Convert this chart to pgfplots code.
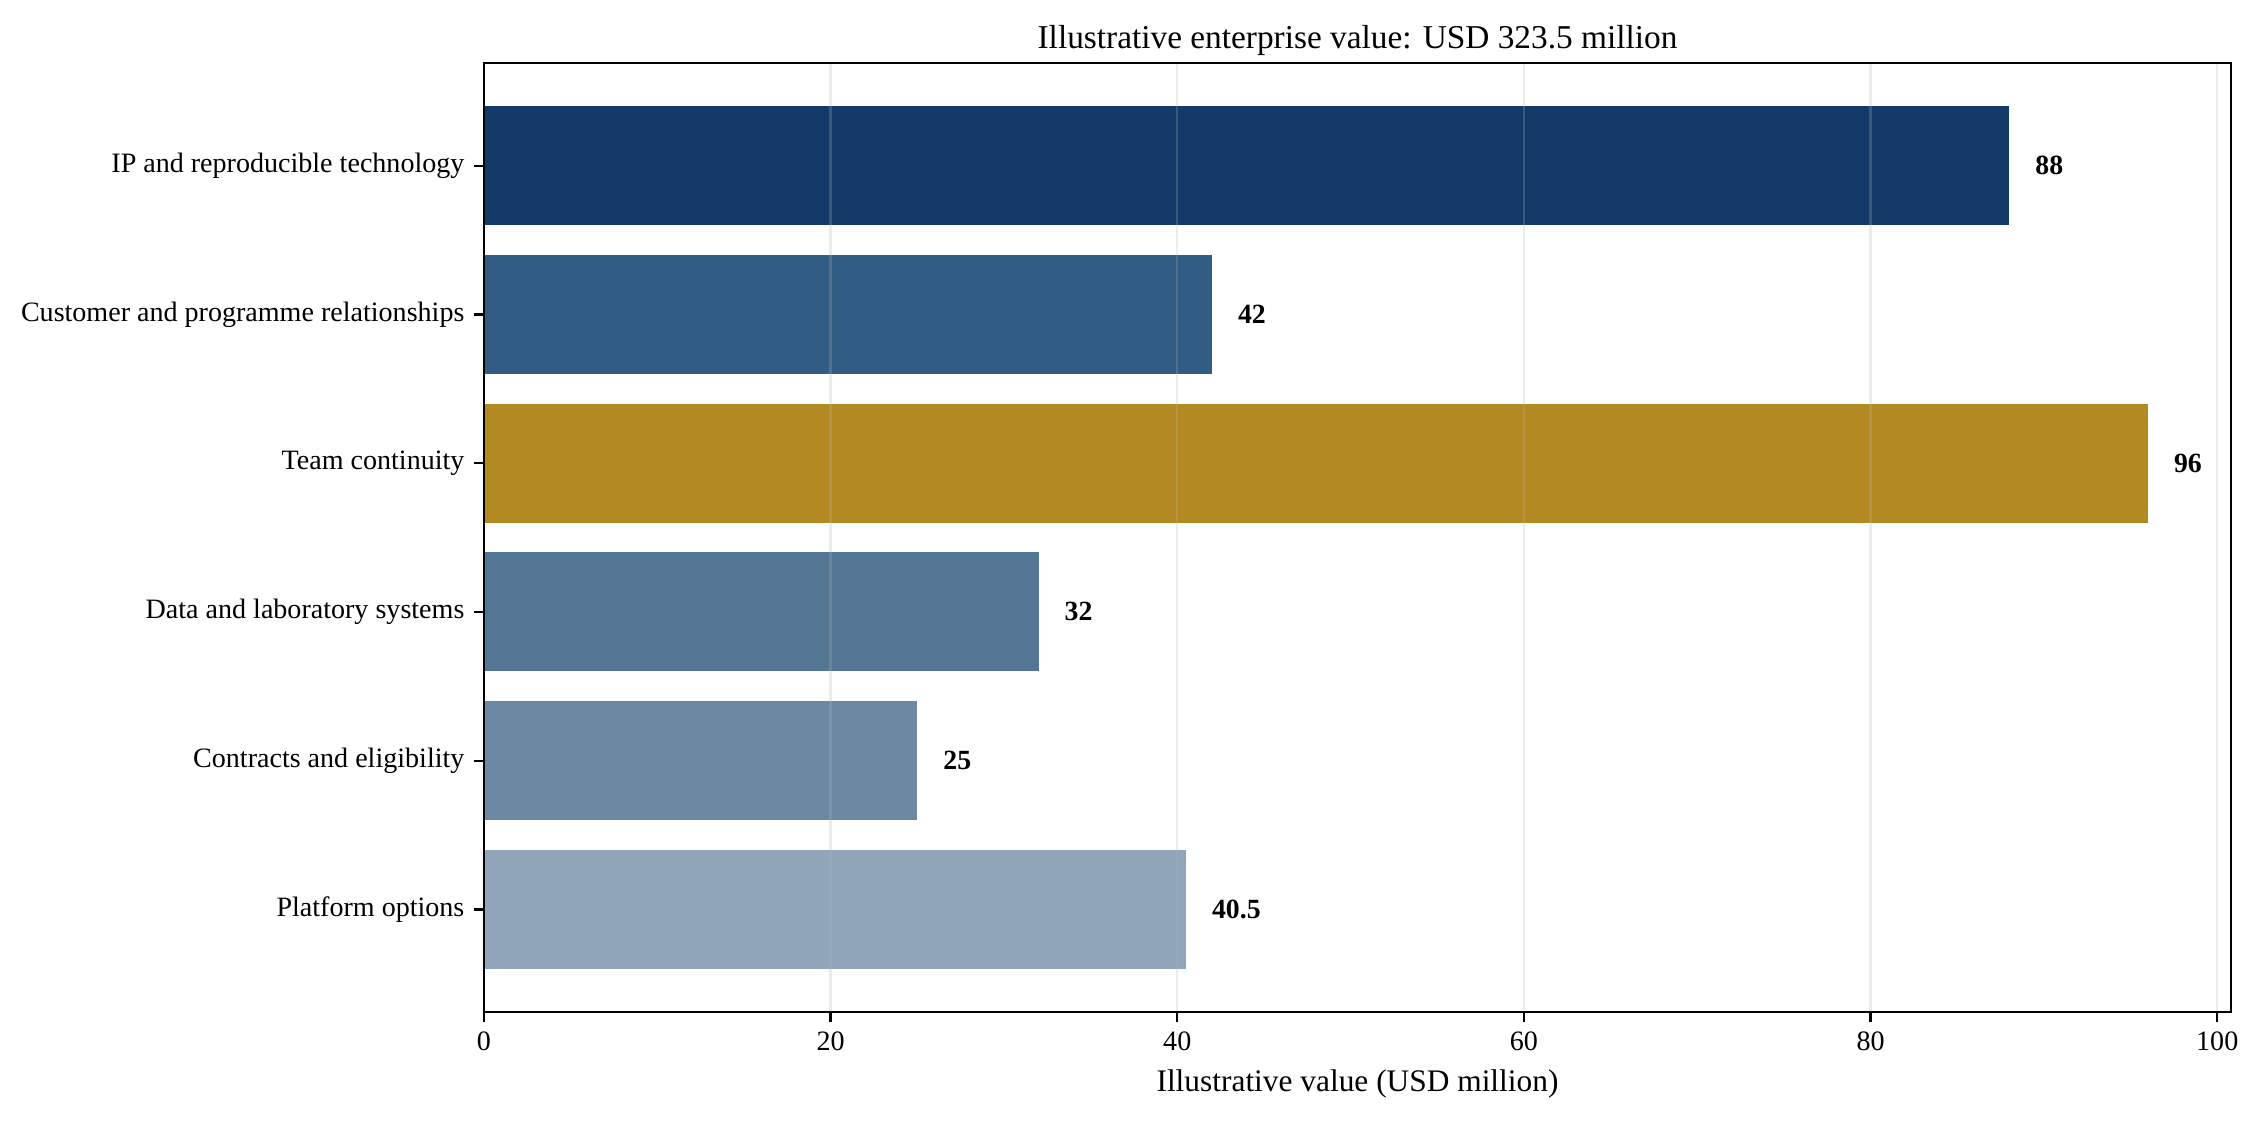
\documentclass[border=0pt]{standalone}
\usepackage{fontspec}
\setmainfont{Liberation Serif}
\usepackage{pgfplots}
\pgfplotsset{compat=1.18}

\definecolor{c1}{HTML}{143A6A}
\definecolor{c2}{HTML}{315C84}
\definecolor{c3}{HTML}{B38A22}
\definecolor{c4}{HTML}{527693}
\definecolor{c5}{HTML}{6C89A4}
\definecolor{c6}{HTML}{90A5B9}

\begin{document}
\begin{tikzpicture}
\path[use as bounding box] (-174.2pt,-39.2pt) rectangle (639.3pt,364.3pt);
\begin{axis}[
    at={(0,0)}, anchor=south west,
    scale only axis,
    width=628.9pt, height=341.6pt,
    xbar, bar width=0.8, bar shift=0pt,
    xmin=0, xmax=100.8,
    ymin=-0.69, ymax=5.69,
    xtick={0,20,40,60,80,100},
    ytick={0,1,2,3,4,5},
    yticklabels={Platform options, Contracts and eligibility, Data and laboratory systems, Team continuity, Customer and programme relationships, IP and reproducible technology},
    xtick pos=bottom, ytick pos=left,
    tick align=outside,
    major tick length=3.5pt,
    every tick/.style={black, line width=0.8pt},
    axis line style={line width=0.8pt},
    xmajorgrids,
    grid style={color=black!30, opacity=0.25, line width=0.8pt},
    axis on top,
    /pgf/number format/assume math mode=true,
    ticklabel style={font=\fontsize{10.1}{12}\selectfont},
    xlabel={Illustrative value (USD million)},
    xlabel style={font=\fontsize{11.3}{13}\selectfont},
    title={Illustrative enterprise value: USD 323.5 million},
    title style={font=\fontsize{12}{14}\selectfont, yshift=-6.7pt},
    point meta=x,
    nodes near coords,
    nodes near coords style={font=\bfseries\fontsize{10}{12}\selectfont, anchor=west, inner sep=0pt, xshift=9.2pt},
]
\addplot[draw=none, fill=c1] coordinates {(88,5)};
\addplot[draw=none, fill=c2] coordinates {(42,4)};
\addplot[draw=none, fill=c3] coordinates {(96,3)};
\addplot[draw=none, fill=c4] coordinates {(32,2)};
\addplot[draw=none, fill=c5] coordinates {(25,1)};
\addplot[draw=none, fill=c6] coordinates {(40.5,0)};
\end{axis}
\end{tikzpicture}
\end{document}
